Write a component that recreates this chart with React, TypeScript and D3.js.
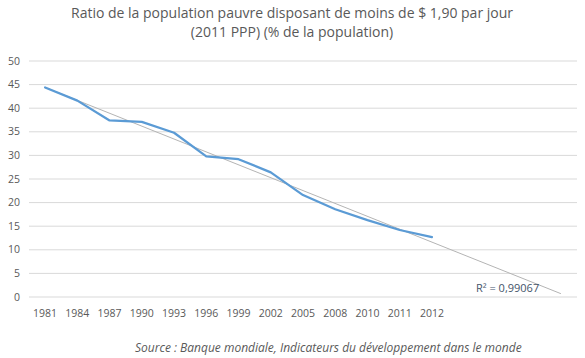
import { useEffect, useRef } from 'react';
import * as d3 from 'd3';

const years = ['1981', '1984', '1987', '1990', '1993', '1996', '1999', '2002', '2005', '2008', '2010', '2011', '2012'];
const ratio = [44.4, 41.6, 37.4, 37.1, 34.8, 29.8, 29.2, 26.4, 21.6, 18.6, 16.3, 14.2, 12.7];
const yTicks = [0, 5, 10, 15, 20, 25, 30, 35, 40, 45, 50];
const forecastPeriods = 4;

const titleLines = [
  'Ratio de la population pauvre disposant de moins de $ 1,90 par jour',
  '(2011 PPP) (% de la population)',
];
const r2Label = 'R² = 0,99067';
const sourceLabel = 'Source : Banque mondiale, Indicateurs du développement dans le monde';

const W = 585;
const H = 358;
const FONT = '"Open Sans", "Liberation Sans", sans-serif';

export default function App() {
  const svgRef = useRef<SVGSVGElement | null>(null);

  useEffect(() => {
    if (!svgRef.current) return;
    const svg = d3.select(svgRef.current);
    svg.selectAll('*').remove();

    const left = 29;
    const right = 577;
    const top = 61;
    const bottom = 297;

    const nCat = years.length + forecastPeriods;
    const x = d3.scaleLinear().domain([-0.5, nCat - 0.5]).range([left, right]);
    const y = d3.scaleLinear().domain([0, 50]).range([bottom, top]);

    // title
    svg.append('g')
      .selectAll('text')
      .data(titleLines)
      .join('text')
      .attr('x', 292)
      .attr('y', (d, i) => 18 + i * 19)
      .attr('text-anchor', 'middle')
      .attr('font-family', FONT)
      .attr('font-size', 14)
      .attr('fill', '#595959')
      .text((d) => d);

    // gridlines
    svg.append('g')
      .selectAll('line')
      .data(yTicks)
      .join('line')
      .attr('x1', left)
      .attr('x2', right)
      .attr('y1', (d) => y(d))
      .attr('y2', (d) => y(d))
      .attr('stroke', '#d9d9d9')
      .attr('stroke-width', 1);

    // y labels
    svg.append('g')
      .selectAll('text')
      .data(yTicks)
      .join('text')
      .attr('x', 20)
      .attr('y', (d) => y(d))
      .attr('dy', '0.35em')
      .attr('text-anchor', 'end')
      .attr('font-family', FONT)
      .attr('font-size', 10.5)
      .attr('fill', '#595959')
      .text((d) => d);

    // x labels
    svg.append('g')
      .selectAll('text')
      .data(years)
      .join('text')
      .attr('x', (d, i) => x(i))
      .attr('y', 313)
      .attr('dy', '0.35em')
      .attr('text-anchor', 'middle')
      .attr('font-family', FONT)
      .attr('font-size', 10.5)
      .attr('fill', '#595959')
      .text((d) => d);

    // linear trend (least squares on category index)
    const idx = ratio.map((_, i) => i);
    const mx = d3.mean(idx) as number;
    const my = d3.mean(ratio) as number;
    const sxy = d3.sum(idx, (i) => (i - mx) * (ratio[i] - my));
    const sxx = d3.sum(idx, (i) => (i - mx) * (i - mx));
    const slope = sxy / sxx;
    const icpt = my - slope * mx;
    const trendEnds = [0, nCat - 1];

    svg.append('path')
      .datum(trendEnds)
      .attr('fill', 'none')
      .attr('stroke', '#b4b4b4')
      .attr('stroke-width', 1)
      .attr('d', d3.line<number>().x((i) => x(i)).y((i) => y(icpt + slope * i)));

    // data line
    svg.append('path')
      .datum(ratio)
      .attr('fill', 'none')
      .attr('stroke', '#5b9bd5')
      .attr('stroke-width', 2.25)
      .attr('stroke-linejoin', 'round')
      .attr('stroke-linecap', 'round')
      .attr('d', d3.line<number>().x((d, i) => x(i)).y((d) => y(d)));

    // R² label
    svg.append('text')
      .attr('x', 476)
      .attr('y', 292)
      .attr('font-family', FONT)
      .attr('font-size', 11)
      .attr('fill', '#44546a')
      .text(r2Label);

    // source
    svg.append('text')
      .attr('x', 135)
      .attr('y', 352)
      .attr('font-family', FONT)
      .attr('font-size', 12)
      .attr('font-style', 'italic')
      .attr('fill', '#595959')
      .text(sourceLabel);
  }, []);

  return (
    <svg ref={svgRef} width={W} height={H}
      style={{ position: 'absolute', left: 0, top: 0, background: '#fff' }} />
  );
}
